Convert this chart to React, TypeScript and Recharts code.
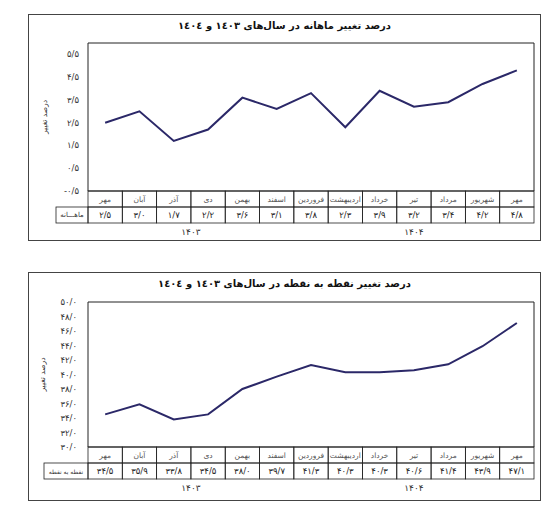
import { LineChart, Line, XAxis, YAxis, ReferenceArea } from 'recharts';

const months = ['مهر', 'آبان', 'آذر', 'دی', 'بهمن', 'اسفند', 'فروردین', 'اردیبهشت', 'خرداد', 'تیر', 'مرداد', 'شهریور', 'مهر'];
const monthlyChange = [2.5, 3.0, 1.7, 2.2, 3.6, 3.1, 3.8, 2.3, 3.9, 3.2, 3.4, 4.2, 4.8];
const pointChange = [34.5, 35.9, 33.8, 34.5, 38.0, 39.7, 41.3, 40.3, 40.3, 40.6, 41.4, 43.9, 47.1];
const monthlyTicks = [-0.5, 0.5, 1.5, 2.5, 3.5, 4.5, 5.5];
const pointTicks = [30, 32, 34, 36, 38, 40, 42, 44, 46, 48, 50];
const years = ['۱۴۰۳', '۱۴۰۴'];
const yearSpans = [6, 7];

const FONT = '"DejaVu Sans", sans-serif';
const LINE = '#2b2868';
const PLOT_LEFT = 88;
const PLOT_RIGHT = 534;
const BAND = (PLOT_RIGHT - PLOT_LEFT) / months.length;
const ROW = 16;

const faDigits = '۰۱۲۳۴۵۶۷۸۹';
const fa = (v: number) =>
  v.toFixed(1).replace(/\d/g, (d) => faDigits[+d]).replace('.', '/');

const yearStarts = yearSpans.map((_, i) => yearSpans.slice(0, i).reduce((a, b) => a + b, 0));

function TableTick(props: any) {
  const { x, y, index, values, rowLabel, labelW, labelSize } = props;
  const left = x - BAND / 2;
  const yi = yearStarts.indexOf(index);
  return (
    <g fontFamily={FONT}>
      <rect x={left} y={y} width={BAND} height={ROW} fill="none" stroke="#222" strokeWidth={0.8} />
      <rect x={left} y={y + ROW} width={BAND} height={ROW} fill="none" stroke="#222" strokeWidth={0.8} />
      <text x={x} y={y + ROW / 2} textAnchor="middle" dominantBaseline="central" fontSize={7.5} fill="#555" direction="rtl">
        {months[index]}
      </text>
      <text x={x} y={y + ROW * 1.5} textAnchor="middle" dominantBaseline="central" fontSize={8.5} fill="#222">
        {fa(values[index])}
      </text>
      {index === 0 && (
        <g>
          <rect x={left - labelW} y={y + ROW} width={labelW} height={ROW} fill="none" stroke="#222" strokeWidth={0.8} />
          <text x={left - labelW / 2} y={y + ROW * 1.5} textAnchor="middle" dominantBaseline="central" fontSize={labelSize} fill="#333" direction="rtl">
            {rowLabel}
          </text>
        </g>
      )}
      {yi >= 0 && (
        <text x={left + (yearSpans[yi] * BAND) / 2} y={y + ROW * 2 + 9} textAnchor="middle" dominantBaseline="central" fontSize={9} fill="#333">
          {years[yi]}
        </text>
      )}
    </g>
  );
}

function Panel({
  top,
  height,
  plotTop,
  axisH,
  title,
  values,
  ticks,
  domain,
  rowLabel,
  labelW,
  labelSize,
  tickMargin,
  yLabelX,
}: {
  top: number;
  height: number;
  plotTop: number;
  axisH: number;
  title: string;
  values: number[];
  ticks: number[];
  domain: [number, number];
  rowLabel: string;
  labelW: number;
  labelSize: number;
  tickMargin: number;
  yLabelX: number;
}) {
  const data = months.map((m, i) => ({ id: 'm' + i, month: m, value: values[i] }));
  return (
    <>
      <div
        style={{
          position: 'absolute',
          left: 28,
          top,
          width: 513,
          height,
          border: '1.5px solid #444',
          boxSizing: 'border-box',
        }}
      />
      <div style={{ position: 'absolute', left: 0, top }}>
        <LineChart
          width={555}
          height={height}
          data={data}
          margin={{ top: plotTop, right: 555 - PLOT_RIGHT, bottom: 0, left: 28 }}
        >
          <XAxis
            dataKey="id"
            type="category"
            scale="band"
            height={axisH}
            axisLine={false}
            tickLine={false}
            tickSize={0}
            tickMargin={0}
            interval={0}
            tick={(p: any) => (
              <TableTick {...p} values={values} rowLabel={rowLabel} labelW={labelW} labelSize={labelSize} />
            )}
          />
          <YAxis
            type="number"
            width={PLOT_LEFT - 28}
            domain={domain}
            ticks={ticks}
            interval={0}
            axisLine={false}
            tickLine={false}
            tickSize={0}
            tickMargin={tickMargin}
            tickFormatter={(v: number) => fa(v)}
            tick={{ fontSize: 8.5, fill: '#333', fontFamily: FONT }}
            label={(p: any) => {
              const vb = p.viewBox || { x: 28, y: plotTop, width: 60, height: height - plotTop - axisH };
              const cx = vb.x + yLabelX;
              const cy = vb.y + vb.height / 2;
              return (
                <text
                  x={cx}
                  y={cy}
                  transform={`rotate(-90, ${cx}, ${cy})`}
                  textAnchor="middle"
                  dominantBaseline="central"
                  fontSize={7.5}
                  fill="#333"
                  fontFamily={FONT}
                  direction="rtl"
                >
                  درصد تغییر
                </text>
              );
            }}
          />
          <ReferenceArea
            x1="m0"
            x2={'m' + (months.length - 1)}
            y1={domain[0]}
            y2={domain[1]}
            fill="none"
            stroke="#222"
            strokeWidth={1}
          />
          <Line
            type="linear"
            dataKey="value"
            stroke={LINE}
            strokeWidth={2}
            dot={false}
            isAnimationActive={false}
          />
        </LineChart>
      </div>
      <div
        style={{
          position: 'absolute',
          left: 28,
          top: top + 6,
          width: 513,
          textAlign: 'center',
          direction: 'rtl',
          fontFamily: FONT,
          fontWeight: 'bold',
          fontSize: 10,
          color: '#111',
        }}
      >
        {title}
      </div>
    </>
  );
}

export default function App() {
  return (
    <div style={{ position: 'absolute', left: 0, top: 0, width: 555, height: 507, background: '#fff' }}>
      <Panel
        top={14}
        height={227}
        plotTop={29}
        axisH={50}
        title="درصد تغییر ماهانه در سال‌های ١٤٠٣ و ١٤٠٤"
        values={monthlyChange}
        ticks={monthlyTicks}
        domain={[-0.5, 6]}
        rowLabel="ماهـــانه"
        labelW={32}
        labelSize={7}
        tickMargin={9}
        yLabelX={16}
      />
      <Panel
        top={272}
        height={229}
        plotTop={30}
        axisH={54}
        title="درصد تغییر نقطه به نقطه در سال‌های ١٤٠٣ و ١٤٠٤"
        values={pointChange}
        ticks={pointTicks}
        domain={[30, 50]}
        rowLabel="نقطه به نقطه"
        labelW={44}
        labelSize={6}
        tickMargin={11}
        yLabelX={14}
      />
    </div>
  );
}
